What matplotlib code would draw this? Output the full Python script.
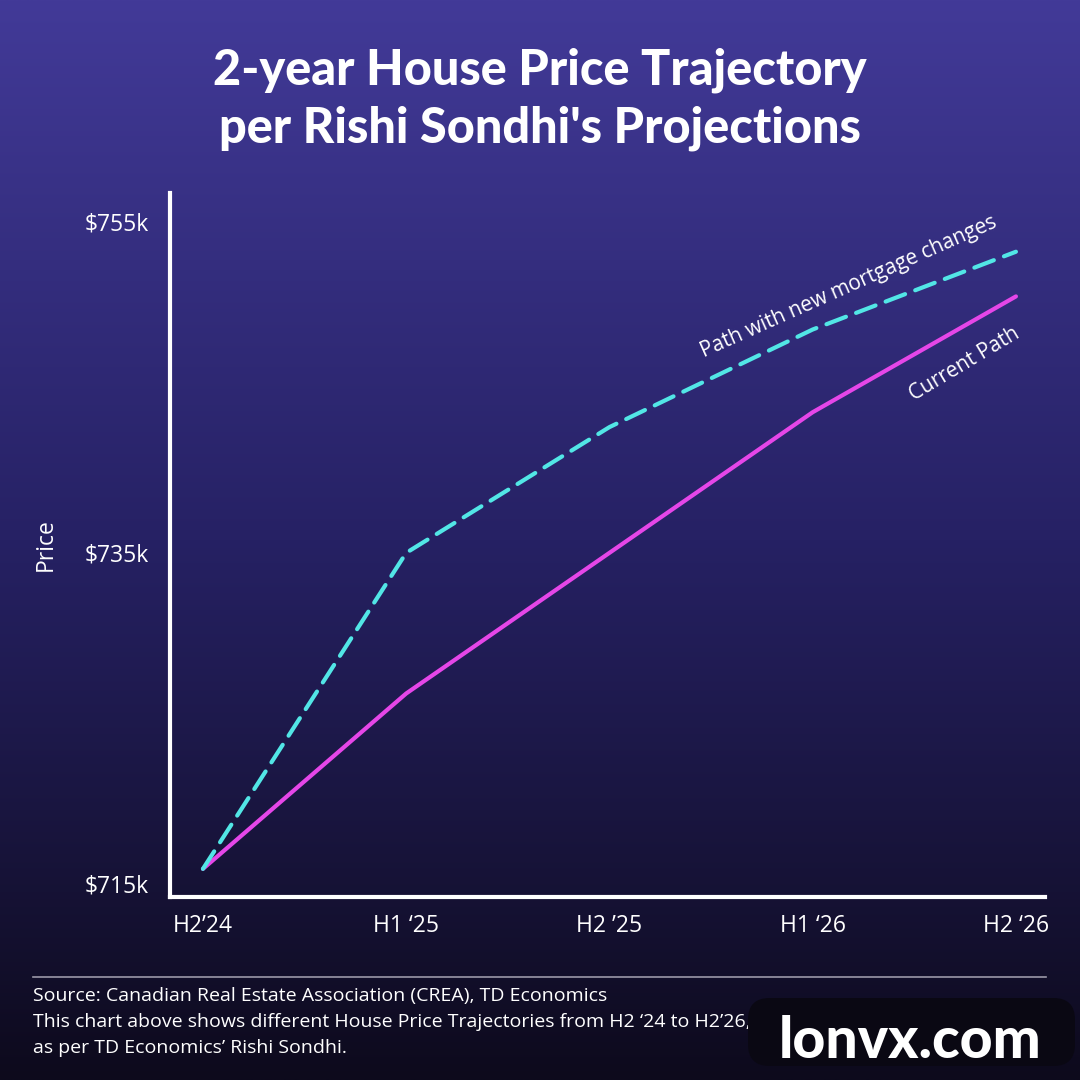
import numpy as np
import matplotlib.pyplot as plt
from matplotlib.patches import FancyBboxPatch
from matplotlib.lines import Line2D

# data (thousands of dollars)
periods = ["H2\u201924", "H1 \u201825", "H2 \u201925", "H1 \u201826", "H2 \u201826"]
current_path = [715.9, 726.5, 735.0, 743.5, 750.5]
mortgage_path = [715.9, 735.0, 742.6, 748.5, 753.2]
y_ticks = [715, 735, 755]

body_font = ["Open Sans", "DejaVu Sans"]
title_font = ["Lato", "DejaVu Sans"]

fig = plt.figure(figsize=(10.8, 10.8), dpi=100)

# gradient background
bg = fig.add_axes([0, 0, 1, 1], zorder=0)
top = np.array([66, 58, 152]) / 255
mid = np.array([38, 33, 100]) / 255
bot = np.array([13, 10, 28]) / 255
t = np.linspace(0, 1, 512)[:, None]
grad = np.where(t < 0.5, top + (mid - top) * (t / 0.5), mid + (bot - mid) * ((t - 0.5) / 0.5))
bg.imshow(grad[:, None, :].repeat(2, axis=1), aspect="auto", extent=[0, 1, 0, 1])
bg.axis("off")

ax = fig.add_axes([170 / 1080, 1 - 897 / 1080, (1045 - 170) / 1080, (897 - 193) / 1080], zorder=1)
ax.patch.set_alpha(0)

x = np.arange(len(periods))
ax.plot(x, current_path, color="#e546e8", lw=3, solid_capstyle="round", zorder=3)
ax.plot(x, mortgage_path, color="#52e6e6", lw=3, dashes=(5, 2.6), dash_capstyle="round", zorder=4)

ax.set_xlim(-0.162, 4.143)
ax.set_ylim(714.2, 756.75)
ax.set_xticks(x)
ax.set_xticklabels(periods)
ax.set_yticks(y_ticks)
ax.set_yticklabels([f"${v}k" for v in y_ticks])
ax.tick_params(length=0, colors="white", labelsize=16.5)
ax.tick_params(axis="y", pad=15)
ax.tick_params(axis="x", pad=12)
for lab in ax.get_xticklabels() + ax.get_yticklabels():
    lab.set_family(body_font)
for s in ["top", "right"]:
    ax.spines[s].set_visible(False)
for s in ["left", "bottom"]:
    ax.spines[s].set_color("white")
    ax.spines[s].set_linewidth(3)

fig.text(46 / 1080, 1 - 545 / 1080, "Price", rotation=90, color="white", fontsize=16.5,
         family=body_font, ha="center", va="center")

ax.text(3.18, 751.1, "Path with new mortgage changes", rotation=24, color="white",
        fontsize=15, family=body_font, ha="center", va="center", rotation_mode="anchor")
ax.text(3.745, 746.4, "Current Path", rotation=31, color="white",
        fontsize=15, family=body_font, ha="center", va="center", rotation_mode="anchor")

fig.text(0.5, 1 - 70 / 1080, "2-year House Price Trajectory", color="white", fontsize=35,
         fontweight="black", family=title_font, ha="center", va="center")
fig.text(0.5, 1 - 128 / 1080, "per Rishi Sondhi's Projections", color="white", fontsize=35,
         fontweight="black", family=title_font, ha="center", va="center")

fig.add_artist(Line2D([33 / 1080, 1046 / 1080], [1 - 977 / 1080] * 2, color="#9a98a8", lw=1.2))
footer = ["Source: Canadian Real Estate Association (CREA), TD Economics",
          "This chart above shows different House Price Trajectories from H2 \u201824 to H2\u201926,",
          "as per TD Economics\u2019 Rishi Sondhi."]
for i, line in enumerate(footer):
    fig.text(33 / 1080, 1 - (996 + i * 26) / 1080, line, color="white", fontsize=14,
             family=body_font, ha="left", va="center")

box = FancyBboxPatch((748 / 1080, 1 - 1066 / 1080), 327 / 1080, 68 / 1080,
                     boxstyle="round,pad=0,rounding_size=0.02", transform=fig.transFigure,
                     facecolor="#0a0813", edgecolor="none", zorder=5)
fig.add_artist(box)
fig.text(910 / 1080, 1 - 1042 / 1080, "lonvx.com", color="white", fontsize=41,
         fontweight="black", family=title_font, ha="center", va="center", zorder=6)

fig.savefig("out.png", dpi=100)
